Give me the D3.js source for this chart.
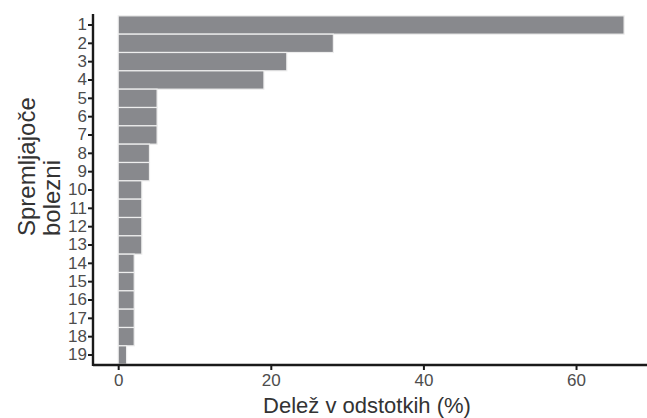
<!DOCTYPE html>
<html><head><meta charset="utf-8">
<script src="https://cdn.jsdelivr.net/npm/d3@7"></script>
<style>body{margin:0;background:#fff;}svg{display:block;font-family:"Liberation Sans",Arial,sans-serif;}</style>
</head><body>
<svg id="c" width="647" height="418"></svg>
<script>
const categories = ["1","2","3","4","5","6","7","8","9","10","11","12","13","14","15","16","17","18","19"];
const values = [66.3,28.2,22.1,19.1,5.1,5.1,5.1,4.1,4.1,3.1,3.1,3.1,3.1,2.1,2.1,2.1,2.1,2.1,1.1];
const xTicks = [0,20,40,60];
const xTitle = "Delež v odstotkih (%)";
const yTitleLines = ["Spremljajoče","bolezni"];

(function(){
const svg = d3.select("#c");
const pL = 93, pR = 647, pT = 14, pB = 366;
const x = d3.scaleLinear().domain([-3.3, 69.3]).range([pL, pR]);
const y = d3.scaleBand().domain(categories).range([pT, pB]).paddingInner(0).paddingOuter(0.1);

svg.append("g").selectAll("rect").data(values).join("rect")
  .attr("x", x(0)).attr("y", (d,i)=>y(categories[i]))
  .attr("width", d=>x(d)-x(0)).attr("height", y.bandwidth())
  .attr("fill", "#88898d").attr("stroke", "#eeeeee").attr("stroke-width", 1.2);

const xAxis = svg.append("g").attr("transform", `translate(0,${pB-1})`)
  .call(d3.axisBottom(x).tickValues(xTicks).tickSize(5).tickSizeOuter(0).tickPadding(4));
const yAxis = svg.append("g").attr("transform", `translate(${pL},0)`)
  .call(d3.axisLeft(y).tickSize(5).tickSizeOuter(0).tickPadding(1));
[xAxis, yAxis].forEach(g=>{
  g.select(".domain").attr("stroke", "#1a1a1a").attr("stroke-width", 2.4);
  g.selectAll(".tick line").attr("stroke", "#1a1a1a").attr("stroke-width", 2);
  g.selectAll(".tick text").attr("fill", "#4d4d4d").attr("font-size", 17).attr("font-family", "Liberation Sans, Arial, sans-serif");
});
xAxis.select(".domain").attr("d", `M${pL},0H${pR}`);
yAxis.select(".domain").attr("d", `M0,${pT}V${pB}`);

svg.append("text").attr("x", 367).attr("y", 413).attr("text-anchor", "middle")
  .attr("font-size", 22).attr("fill", "#333").text(xTitle);

const yt = svg.append("text").attr("transform", "translate(0,236) rotate(-90)")
  .attr("font-size", 24).attr("fill", "#333");
yTitleLines.forEach((t,i)=>{
  yt.append("tspan").attr("x", 0).attr("y", 35 + i*25).text(t);
});
})();
</script>
</body></html>
